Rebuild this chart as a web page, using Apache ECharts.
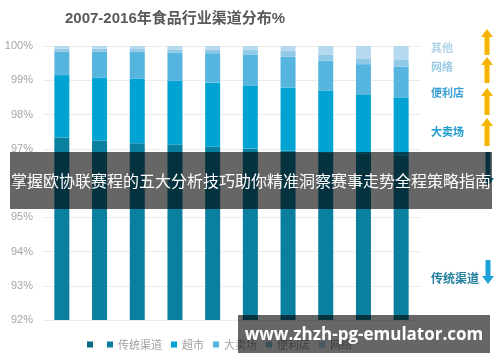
<!DOCTYPE html>
<html><head><meta charset="utf-8">
<script src="https://cdn.jsdelivr.net/npm/echarts@6/dist/echarts.min.js"></script>
<style>html,body{margin:0;padding:0;background:#fff}#c{width:500px;height:362px}</style>
</head><body><div id="c"></div>
<script>
var years = ['2007','2008','2009','2010','2011','2012','2013','2014','2015','2016'];
var blankSeries = [0,0,0,0,0,0,0,0,0,0];
var traditional = [97.33,97.24,97.16,97.12,97.06,97.01,96.95,96.90,96.85,96.80];
var supermarket = [1.82,1.84,1.88,1.87,1.87,1.84,1.83,1.79,1.72,1.70];
var hypermarket = [0.68,0.75,0.79,0.81,0.86,0.89,0.91,0.88,0.90,0.90];
var convenience = [0.09,0.09,0.08,0.10,0.10,0.14,0.16,0.17,0.17,0.19];
var online = [0.08,0.08,0.09,0.10,0.11,0.12,0.15,0.26,0.36,0.41];
var seriesNames = ['\u200b','传统渠道','超市','大卖场','便利店','网络'];
var seriesColors = ['#0b6a86','#0a7f9e','#00a3d1','#56b5df','#8fc9e7','#b5d9ee'];
var seriesData = [blankSeries,traditional,supermarket,hypermarket,convenience,online];
var yTicks = [92,93,94,95,96,97,98,99,100];
var titleText = '2007-2016年食品行业渠道分布%';
var sideLabels = ['其他','网络','便利店','大卖场','传统渠道'];
var bannerText = '掌握欧协联赛程的五大分析技巧助你精准洞察赛事走势全程策略指南';
var watermarkText = 'www.zhzh-pg-emulator.com';

var chart = echarts.init(document.getElementById('c'), null, {renderer:'canvas'});

function upArrow(cx, top, bottom, color){
  return {type:'polygon', z:10, shape:{points:[[cx,top],[cx+6,top+8],[cx+2.5,top+8],[cx+2.5,bottom],[cx-2.5,bottom],[cx-2.5,top+8],[cx-6,top+8]]}, style:{fill:color}};
}
function downArrow(cx, top, bottom, color){
  return {type:'polygon', z:10, shape:{points:[[cx,bottom],[cx+6,bottom-8],[cx+2.5,bottom-8],[cx+2.5,top],[cx-2.5,top],[cx-2.5,bottom-8],[cx-6,bottom-8]]}, style:{fill:color}};
}
var sideColors = ['#b0d3ea','#9ccbe6','#3a9fd2','#1a9ccc','#237f9e'];
var sideY = [48,67,93,132,278];
var graphics = [];
sideLabels.forEach(function(t,i){
  graphics.push({type:'text', z:10, x:431, y:sideY[i], style:{text:t, fill:sideColors[i], font:'bold '+(i===4?12:11)+'px "Noto Sans CJK SC"', textVerticalAlign:'middle'}});
});
var yellow = '#f6b400';
graphics.push(upArrow(487,29,55,yellow));
graphics.push(upArrow(487,57,83,yellow));
graphics.push(upArrow(487,88,115,yellow));
graphics.push(upArrow(487,118,146,yellow));
graphics.push(downArrow(488,152,186,'#0e7d9b'));
graphics.push(downArrow(488,260,284,'#18a2d8'));
// banner overlay
graphics.push({type:'rect', z:50, shape:{x:10,y:152,width:482,height:57}, style:{fill:'rgba(0,0,0,0.6)'}});
graphics.push({type:'text', z:51, x:251, y:181, style:{text:bannerText, fill:'#ffffff', font:'16px "Noto Sans CJK SC"', textAlign:'center', textVerticalAlign:'middle'}});
// watermark
graphics.push({type:'rect', z:50, shape:{x:238,y:315,width:252,height:38}, style:{fill:'rgba(0,0,0,0.6)'}});
graphics.push({type:'text', z:51, x:364, y:335, style:{text:watermarkText, fill:'#ffffff', font:'bold 17px "Open Sans"', textAlign:'center', textVerticalAlign:'middle'}});

var option = {
  animation:false,
  title:{text:titleText, left:60, top:6, textStyle:{fontSize:15, fontWeight:'bold', color:'#595959', fontFamily:'"Liberation Sans","Noto Sans CJK SC"'}},
  legend:{data:seriesNames, left:87, bottom:12, padding:0, itemWidth:6, itemHeight:6, itemGap:9, icon:'rect',
    textStyle:{fontSize:11, color:'#a0a0a0', fontFamily:'"Noto Sans CJK SC"'}},
  grid:{left:43, right:80, top:46, bottom:42},
  xAxis:{type:'category', data:years, axisLine:{show:false}, axisTick:{show:false}, axisLabel:{show:false}},
  yAxis:{type:'value', min:yTicks[0], max:yTicks[yTicks.length-1], interval:1,
    axisLine:{show:false}, axisTick:{show:false},
    axisLabel:{formatter:'{value}%', color:'#a5a5a5', fontSize:11, margin:10, fontFamily:'"Liberation Sans"'},
    splitLine:{lineStyle:{color:'#ebebeb', width:1}}},
  series: seriesNames.map(function(n,i){
    return {name:n, type:'bar', stack:'total', barWidth:15, data:seriesData[i], itemStyle:{color:seriesColors[i]}};
  }),
  graphic: graphics
};
chart.setOption(option);
</script>
</body></html>
